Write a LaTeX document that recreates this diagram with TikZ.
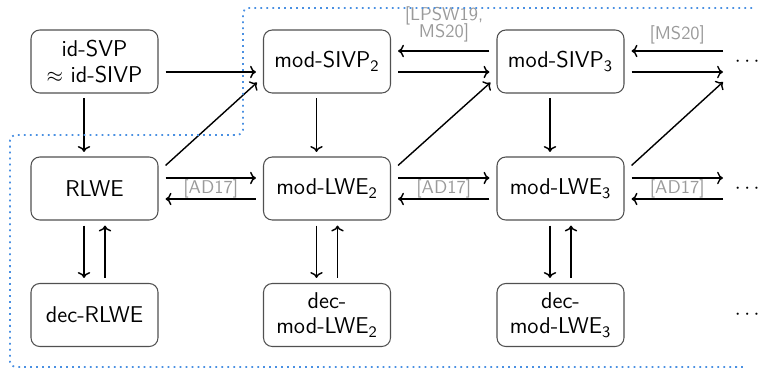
\documentclass[tikz,border=0pt]{standalone}
\usepackage{amsmath,amssymb}
\usepackage{xcolor}
\usepackage{tikz}
\usetikzlibrary{positioning,calc,arrows.meta}
\definecolor{citegray}{HTML}{9A9A9A}
\definecolor{regionblue}{HTML}{4A90E2}
\definecolor{boxline}{HTML}{505050}

\begin{document}
\begin{tikzpicture}[
    prob/.style={draw=boxline, semithick, rounded corners=5pt, minimum width=2.54cm,
      minimum height=1.26cm, align=center, inner sep=1pt, font=\sffamily\fontsize{13}{14.5}\selectfont},
    reduc/.style={->, thick},
    cite/.style={text=citegray, font=\sffamily\fontsize{10.5}{12}\selectfont, inner sep=1pt, align=center},
    more/.style={font=\large, inner sep=1pt}
  ]
  \useasboundingbox (0,0) rectangle (15.22,7.38);

  % Problems, three columns (ideal, rank 2, rank 3)
  \node[prob] (idsvp) at (1.89, 6.15) {id-SVP\\$\approx$ id-SIVP};
  \node[prob] (sivp2) at (6.54, 6.15) {mod-SIVP\textsubscript{2}};
  \node[prob] (sivp3) at (11.21, 6.15) {mod-SIVP\textsubscript{3}};
  \node[prob] (rlwe) at (1.89, 3.61) {RLWE};
  \node[prob] (lwe2) at (6.54, 3.61) {mod-LWE\textsubscript{2}};
  \node[prob] (lwe3) at (11.21, 3.61) {mod-LWE\textsubscript{3}};
  \node[prob] (drlwe) at (1.89, 1.08) {dec-RLWE};
  \node[prob] (dlwe2) at (6.54, 1.08) {dec-\\mod-LWE\textsubscript{2}};
  \node[prob] (dlwe3) at (11.21, 1.08) {dec-\\mod-LWE\textsubscript{3}};

  % Higher ranks
  \node[more] (dots1) at (14.98, 6.15) {$\cdots$};
  \node[more] (dots2) at (14.98, 3.61) {$\cdots$};
  \node[more] (dots3) at (14.98, 1.08) {$\cdots$};
  \coordinate (open1) at (14.46, 6.15);
  \coordinate (open2) at (14.46, 3.61);

  % Top row
  \draw[reduc] ([xshift=0.14cm, yshift=-0.21cm]idsvp.east) -- ([xshift=-0.14cm, yshift=-0.21cm]sivp2.west);
  \draw[reduc] ([xshift=-0.14cm, yshift=0.21cm]sivp3.west) -- ([xshift=0.14cm, yshift=0.21cm]sivp2.east);
  \draw[reduc] ([xshift=0.14cm, yshift=-0.21cm]sivp2.east) -- ([xshift=-0.14cm, yshift=-0.21cm]sivp3.west);
  \draw[reduc] ([yshift=0.21cm]open1) -- ([xshift=0.14cm, yshift=0.21cm]sivp3.east);
  \draw[reduc] ([xshift=0.14cm, yshift=-0.21cm]sivp3.east) -- ([yshift=-0.21cm]open1);
  \node[cite] (lpsw) at (8.88, 6.89) {[LPSW19,\\[-2pt]MS20]};
  \node[cite] (ms) at ($(sivp3.east)!0.5!(open1) + (0.07, 0.53)$) {[MS20]};

  % Middle row
  \draw[reduc] ([xshift=0.14cm, yshift=0.21cm]rlwe.east) -- ([xshift=-0.14cm, yshift=0.21cm]lwe2.west);
  \draw[reduc] ([xshift=-0.14cm, yshift=-0.21cm]lwe2.west) -- ([xshift=0.14cm, yshift=-0.21cm]rlwe.east);
  \draw[reduc] ([xshift=0.14cm, yshift=0.21cm]lwe2.east) -- ([xshift=-0.14cm, yshift=0.21cm]lwe3.west);
  \draw[reduc] ([xshift=-0.14cm, yshift=-0.21cm]lwe3.west) -- ([xshift=0.14cm, yshift=-0.21cm]lwe2.east);
  \draw[reduc] ([xshift=0.14cm, yshift=0.21cm]lwe3.east) -- ([yshift=0.21cm]open2);
  \draw[reduc] ([yshift=-0.21cm]open2) -- ([xshift=0.14cm, yshift=-0.21cm]lwe3.east);
  \node[cite] (ad1) at ($(rlwe.east)!0.5!(lwe2.west)$) {[AD17]};
  \node[cite] (ad2) at ($(lwe2.east)!0.5!(lwe3.west)$) {[AD17]};
  \node[cite] (ad3) at ($(lwe3.east)!0.5!(open2) + (0.07, 0)$) {[AD17]};

  % Search to SIVP, diagonals
  \draw[reduc] ([shift={(0.14,-0.18)}]rlwe.north east) -- ([shift={(-0.12,0.22)}]sivp2.south west);
  \draw[reduc] ([shift={(0.14,-0.18)}]lwe2.north east) -- ([shift={(-0.12,0.22)}]sivp3.south west);
  \draw[reduc] ([shift={(0.14,-0.18)}]lwe3.north east) -- ([yshift=-0.41cm]open1);

  % Downward reductions
  \foreach \top/\bot in {idsvp/rlwe, sivp2/lwe2, sivp3/lwe3} {
    \draw[reduc] ([xshift=-0.21cm, yshift=-0.09cm]\top.south) -- ([xshift=-0.21cm, yshift=0.09cm]\bot.north);
  }

  % Search <-> decision
  \foreach \srch/\dec in {rlwe/drlwe, lwe2/dlwe2, lwe3/dlwe3} {
    \draw[reduc] ([xshift=-0.21cm, yshift=-0.1cm]\srch.south) -- ([xshift=-0.21cm, yshift=0.1cm]\dec.north);
    \draw[reduc] ([xshift=0.21cm, yshift=0.1cm]\dec.north) -- ([xshift=0.21cm, yshift=-0.1cm]\srch.south);
  }

  % Module region
  \draw[regionblue, line width=1pt, dash pattern=on 1pt off 2.4pt, rounded corners=3pt]
    (15.04, 7.22) -- (4.86, 7.22) -- (4.86, 4.68) -- (0.2, 4.68) -- (0.2, 0.04) -- (14.94, 0.04);
\end{tikzpicture}
\end{document}
